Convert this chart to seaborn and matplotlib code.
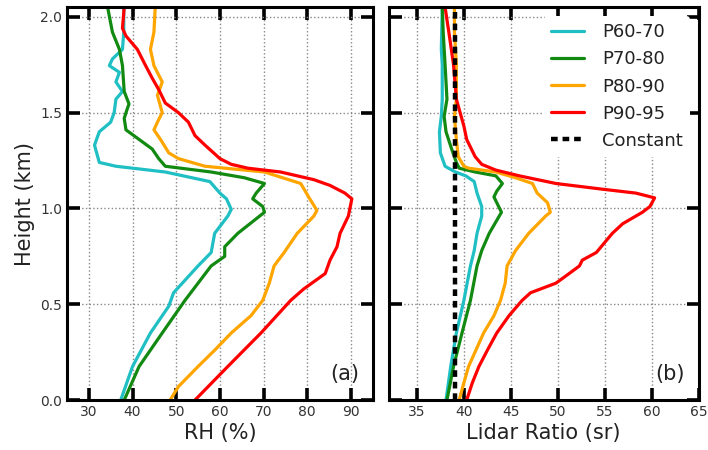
import numpy as np
import pandas as pd
import matplotlib
matplotlib.use("Agg")
import matplotlib.pyplot as plt
import seaborn as sns

# ---- panel (a): RH profiles, (height km, RH %) ----
h_rh_p60 = [0.0, 0.175, 0.35, 0.49, 0.56, 0.70, 0.77, 0.87, 0.96, 0.995, 1.05, 1.08, 1.14, 1.19, 1.21, 1.22, 1.24,
            1.33, 1.40, 1.45, 1.50, 1.57, 1.61, 1.66, 1.71, 1.745, 1.78, 1.83, 1.92, 2.05]
rh_p60 = [37.3, 40.0, 44.1, 48.3, 49.4, 55.0, 58.0, 58.8, 61.8, 62.6, 61.5, 60.0, 57.7, 47.5, 40.0, 36.2, 32.4,
          31.3, 32.4, 35.0, 35.8, 36.2, 37.7, 36.2, 37.0, 34.7, 35.4, 37.7, 38.0, 38.0]

h_rh_p70 = [0.0, 0.175, 0.35, 0.52, 0.70, 0.75, 0.80, 0.87, 0.98, 1.01, 1.05, 1.08, 1.13, 1.16, 1.19, 1.22, 1.26,
            1.31, 1.36, 1.41, 1.47, 1.52, 1.545, 1.61, 1.745, 1.83, 1.92, 2.05]
rh_p70 = [38.1, 41.5, 46.8, 52.0, 58.0, 61.1, 61.1, 64.1, 70.2, 69.8, 67.5, 68.3, 70.2, 65.6, 58.0, 47.5, 46.0,
          44.5, 41.5, 38.5, 38.1, 38.8, 39.2, 38.1, 37.7, 37.0, 35.4, 34.3]

h_rh_p80 = [0.0, 0.07, 0.175, 0.26, 0.35, 0.44, 0.52, 0.61, 0.70, 0.77, 0.87, 0.96, 0.99, 1.06, 1.13, 1.19, 1.22,
            1.26, 1.29, 1.36, 1.41, 1.45, 1.50, 1.59, 1.66, 1.745, 1.83, 1.92, 2.05]
rh_p80 = [48.6, 50.5, 55.0, 58.8, 62.6, 67.1, 69.8, 71.3, 72.4, 74.7, 77.7, 81.5, 82.2, 80.3, 78.5, 70.2, 56.6,
          50.5, 48.3, 46.4, 44.9, 45.7, 46.8, 45.7, 46.8, 44.9, 44.1, 44.9, 45.2]

h_rh_p90 = [0.0, 0.175, 0.35, 0.52, 0.58, 0.66, 0.73, 0.80, 0.87, 0.96, 1.05, 1.08, 1.12, 1.15, 1.19, 1.21, 1.23,
            1.26, 1.33, 1.38, 1.45, 1.50, 1.55, 1.62, 1.68, 1.745, 1.83, 1.90, 1.94, 2.05]
rh_p90 = [54.3, 61.8, 69.4, 76.2, 79.2, 84.1, 85.2, 86.8, 87.5, 89.4, 90.2, 88.6, 85.2, 81.5, 73.9, 66.4, 62.6,
          60.0, 56.6, 54.3, 52.8, 50.5, 47.5, 46.0, 44.5, 43.0, 41.1, 38.5, 37.7, 38.1]

# ---- panel (b): lidar ratio profiles, (height km, LR sr) ----
h_lr_p60 = [0.0, 0.175, 0.35, 0.52, 0.70, 0.78, 0.87, 0.96, 1.01, 1.08, 1.14, 1.17, 1.19, 1.22, 1.29, 1.40, 1.48,
            1.57, 1.75, 1.83, 2.05]
lr_p60 = [38.1, 38.6, 39.2, 40.0, 40.7, 41.1, 41.4, 41.9, 41.9, 41.4, 41.1, 40.2, 39.1, 38.0, 37.5, 37.4, 37.6,
          37.7, 37.7, 37.6, 37.7]

h_lr_p70 = [0.0, 0.175, 0.35, 0.52, 0.70, 0.78, 0.87, 0.98, 1.03, 1.06, 1.09, 1.13, 1.17, 1.19, 1.21, 1.24, 1.31,
            1.40, 1.48, 1.57, 1.75, 1.92, 2.05]
lr_p70 = [38.2, 38.9, 39.8, 40.7, 41.4, 41.9, 42.7, 44.0, 43.5, 43.2, 43.5, 44.1, 43.4, 41.2, 39.5, 39.2, 38.7,
          38.1, 37.9, 38.2, 38.0, 37.8, 37.7]

h_lr_p80 = [0.0, 0.09, 0.175, 0.35, 0.44, 0.52, 0.61, 0.70, 0.78, 0.87, 0.96, 0.98, 1.03, 1.08, 1.13, 1.16, 1.19,
            1.21, 1.22, 1.27, 1.36, 1.48, 1.57, 1.75, 1.92, 2.05]
lr_p80 = [39.5, 40.0, 40.5, 42.1, 43.2, 43.9, 44.4, 44.6, 45.5, 46.9, 48.7, 49.2, 48.9, 47.8, 47.3, 45.5, 43.4,
          40.5, 40.0, 39.4, 39.2, 39.0, 39.2, 39.2, 39.0, 39.0]

h_lr_p90 = [0.0, 0.09, 0.175, 0.26, 0.35, 0.44, 0.52, 0.56, 0.61, 0.66, 0.70, 0.73, 0.77, 0.87, 0.92, 0.98, 1.01,
            1.055, 1.08, 1.10, 1.13, 1.17, 1.20, 1.23, 1.27, 1.36, 1.43, 1.50, 1.57, 1.75, 1.92, 2.05]
lr_p90 = [40.3, 40.9, 41.6, 42.5, 43.5, 44.8, 46.2, 47.1, 49.8, 51.2, 52.3, 52.6, 54.1, 55.8, 56.9, 59.0, 59.8,
          60.3, 58.3, 54.8, 49.8, 45.9, 43.4, 41.9, 41.2, 40.3, 40.0, 39.6, 39.2, 38.9, 38.4, 38.0]

h_const = [0.0, 2.05]
lr_const = [39.1, 39.1]

series_names = ["P60-70", "P70-80", "P80-90", "P90-95"]
series_colors = ["#1fbfc4", "#128a12", "#ffa500", "#ff0000"]

rh_ticks = [30, 40, 50, 60, 70, 80, 90]
lr_ticks = [35, 40, 45, 50, 55, 60, 65]
h_ticks = [0.0, 0.5, 1.0, 1.5, 2.0]


def to_frame(pairs, value_col):
    parts = []
    for name, (h, v) in zip(series_names, pairs):
        parts.append(pd.DataFrame({"height": h, value_col: v, "series": name}))
    return pd.concat(parts, ignore_index=True)


df_rh = to_frame([(h_rh_p60, rh_p60), (h_rh_p70, rh_p70), (h_rh_p80, rh_p80), (h_rh_p90, rh_p90)], "rh")
df_lr = to_frame([(h_lr_p60, lr_p60), (h_lr_p70, lr_p70), (h_lr_p80, lr_p80), (h_lr_p90, lr_p90)], "lr")
df_const = pd.DataFrame({"height": h_const, "lr": lr_const})

sns.set_style("ticks")
plt.rcParams["font.family"] = ["DejaVu Sans"]

fig = plt.figure(figsize=(7.08, 4.5), dpi=100)
ax1 = fig.add_axes([0.0946, 0.111, 0.432, 0.873])
ax2 = fig.add_axes([0.549, 0.111, 0.438, 0.873])

palette = dict(zip(series_names, series_colors))

sns.lineplot(data=df_rh, x="rh", y="height", hue="series", palette=palette, sort=False,
             estimator=None, lw=2.3, ax=ax1, legend=False)
sns.lineplot(data=df_lr, x="lr", y="height", hue="series", palette=palette, sort=False,
             estimator=None, lw=2.3, ax=ax2, legend=False)
sns.lineplot(data=df_const, x="lr", y="height", color="black", lw=3.2, ax=ax2,
             sort=False, estimator=None, legend=False)
ax2.lines[-1].set_linestyle((0, (1.5, 1.1)))

for ax, xlim, xt in [(ax1, (25, 95), rh_ticks), (ax2, (32, 65), lr_ticks)]:
    ax.set_xlim(*xlim)
    ax.set_ylim(0, 2.05)
    ax.set_xticks(xt)
    ax.set_yticks(h_ticks)
    ax.grid(True, ls=":", color="#888888", lw=1.0)
    ax.set_axisbelow(True)
    for s in ax.spines.values():
        s.set_linewidth(2.2)
        s.set_color("black")
    ax.tick_params(direction="in", length=9, width=2.6, top=True, right=True,
                   labelsize=10, labelcolor="#333333", color="black")
    ax.set_ylabel("")

ax1.set_yticklabels(["0.0", "0.5", "1.0", "1.5", "2.0"])
ax2.set_yticklabels([])
ax1.set_xlabel("RH (%)", fontsize=15, color="#222222", labelpad=3)
ax2.set_xlabel("Lidar Ratio (sr)", fontsize=15, color="#222222", labelpad=3)
ax1.set_ylabel("Height (km)", fontsize=15, color="#222222")

ax1.text(0.955, 0.04, "(a)", transform=ax1.transAxes, ha="right", va="bottom",
         fontsize=15, color="#222222")
ax2.text(0.955, 0.04, "(b)", transform=ax2.transAxes, ha="right", va="bottom",
         fontsize=15, color="#222222")

handles = ax2.lines[:5]
labels = series_names + ["Constant"]
leg = ax2.legend(handles, labels, loc="upper right", fontsize=13, frameon=True,
                 handlelength=1.8, handletextpad=1.0, borderaxespad=0.5, labelspacing=0.5)
leg.get_frame().set_edgecolor("none")
leg.get_frame().set_facecolor("white")
leg.get_frame().set_alpha(1.0)
for t in leg.get_texts():
    t.set_color("#222222")

fig.savefig("out.png", dpi=100)
